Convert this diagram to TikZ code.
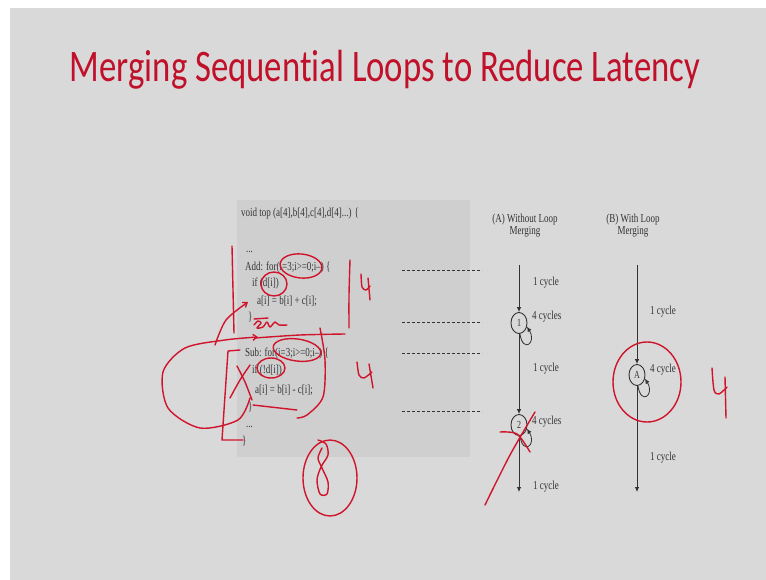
\documentclass[tikz,border=0pt]{standalone}
\usepackage{graphicx}
\usepackage{fontspec}
\setmainfont{Liberation Serif}
\newfontfamily\titlefont[Ligatures=NoCommon]{Carlito}
\usetikzlibrary{arrows.meta,shapes.geometric}
\definecolor{slide}{HTML}{D9D9D9}
\definecolor{codebg}{HTML}{CFCFCF}
\definecolor{titlered}{HTML}{C0102A}
\definecolor{ink}{HTML}{D0142C}
\definecolor{txt}{HTML}{333333}
% text on this slide is set slightly taller than wide
\newcommand\tallt[1]{\scalebox{1}[1.35]{#1}}
\begin{document}
\begin{tikzpicture}[x=1pt,y=-1pt,
  codeline/.style={anchor=base west, inner sep=0pt, font=\fontsize{9}{10}\selectfont, text=txt},
  lbl/.style={anchor=west, inner sep=0pt, font=\fontsize{9}{10}\selectfont, text=txt},
  hdr/.style={inner sep=0pt, font=\fontsize{9}{10}\selectfont, text=txt},
  state/.style={ellipse, draw=txt, line width=0.9pt, minimum width=16pt, minimum height=21pt, inner sep=0pt, font=\fontsize{8}{9}\selectfont, text=txt},
  flow/.style={draw=txt, line width=0.8pt, -{Latex[length=5pt,width=4.5pt]}},
  guide/.style={draw=txt, line width=0.8pt, dash pattern=on 3pt off 2pt},
  pen/.style={draw=ink, line width=1.4pt, line cap=round, line join=round},
]
\useasboundingbox (0,0) rectangle (766,580);
\fill[white] (0,0) rectangle (766,580);
\fill[slide] (10,8) rectangle (766,580);

% title
\node[text=titlered, inner sep=0pt, anchor=base] (title) at (385,82)
  {\titlefont\scalebox{1}[1.3]{\resizebox{630pt}{!}{Merging Sequential Loops to Reduce Latency}}};

% code panel
\node[fill=codebg, minimum width=233pt, minimum height=257pt, anchor=north west, inner sep=0pt] (codebox) at (237,200) {};
\node[codeline] (c1) at (241,217) {\tallt{void top (a[4],b[4],c[4],d[4]...) \{}};
\node[codeline] (c2) at (246,253) {\tallt{...}};
\node[codeline] (c3) at (245,270) {\tallt{Add: for(i=3;i>=0;i--) \{}};
\node[codeline] (c4) at (252,287) {\tallt{if (d[i])}};
\node[codeline] (c5) at (257,304) {\tallt{a[i] = b[i] + c[i];}};
\node[codeline] (c6) at (248,320) {\tallt{\}}};
\node[codeline] (c7) at (245,356) {\tallt{Sub: for(i=3;i>=0;i--) \{}};
\node[codeline] (c8) at (252,373) {\tallt{if (!d[i])}};
\node[codeline] (c9) at (255,393) {\tallt{a[i] = b[i] - c[i];}};
\node[codeline] (c10) at (248,410) {\tallt{\}}};
\node[codeline] (c11) at (246,427) {\tallt{...}};
\node[codeline] (c12) at (242,444) {\tallt{\}}};

% dashed guides
\coordinate (g1a) at (402,270); \coordinate (g1b) at (482,270);
\coordinate (g2a) at (402,322); \coordinate (g2b) at (482,322);
\coordinate (g3a) at (402,353); \coordinate (g3b) at (482,353);
\coordinate (g4a) at (402,411); \coordinate (g4b) at (482,411);
\draw[guide] (g1a) -- (g1b);
\draw[guide] (g2a) -- (g2b);
\draw[guide] (g3a) -- (g3b);
\draw[guide] (g4a) -- (g4b);

% (A) without loop merging
\node[hdr] (hA) at (525,226) {\tallt{\begin{tabular}{@{}c@{}}(A) Without Loop\\[-1pt]Merging\end{tabular}}};
\coordinate (Atop) at (519,265);
\node[state] (n1) at (519,323) {\tallt{1}};
\node[state] (n2) at (519,425) {\tallt{2}};
\coordinate (Abot) at (519,492);
\draw[flow] (Atop) -- (n1);
\draw[flow] (n1) -- (n2);
\draw[flow] (n2) -- (Abot);
\draw[flow] (n1.-85) .. controls +(3,20) and +(10,16) .. (n1.-25);
\draw[flow] (n2.-85) .. controls +(3,20) and +(10,16) .. (n2.-25);
\node[lbl] (la1) at (533,283) {\tallt{1 cycle}};
\node[lbl] (la2) at (532,317) {\tallt{4 cycles}};
\node[lbl] (la3) at (533,369) {\tallt{1 cycle}};
\node[lbl] (la4) at (532,422) {\tallt{4 cycles}};
\node[lbl] (la5) at (533,487) {\tallt{1 cycle}};

% (B) with loop merging
\node[hdr] (hB) at (633,226) {\tallt{\begin{tabular}{@{}c@{}}(B) With Loop\\[-1pt]Merging\end{tabular}}};
\coordinate (Btop) at (637,265);
\node[state] (nA) at (637,375) {\tallt{A}};
\coordinate (Bbot) at (637,492);
\draw[flow] (Btop) -- (nA);
\draw[flow] (nA) -- (Bbot);
\draw[flow] (nA.-85) .. controls +(3,20) and +(10,16) .. (nA.-25);
\node[lbl] (lb1) at (650,312) {\tallt{1 cycle}};
\node[lbl] (lb2) at (650,370) {\tallt{4 cycle}};
\node[lbl] (lb3) at (650,458) {\tallt{1 cycle}};

% handwritten pen annotations
\draw[pen, rotate around={-6:(301,266)}] (301,266) ellipse [x radius=21pt, y radius=12pt];
\draw[pen] (274,284) ellipse [x radius=13pt, y radius=12pt];
\draw[pen] plot[smooth] coordinates {(232,246) (233,290) (234,333)};
\draw[pen, -{Straight Barb[length=4pt,width=6pt]}] plot[smooth] coordinates {(215,345) (226,320) (248,302)};
\draw[pen] (254,319) -- (268,318);
\draw[pen] plot[smooth] coordinates {(254,325) (258,321) (261,323) (257,328) (263,327) (267,322) (270,327) (275,322) (279,325) (287,325)};
\draw[pen] plot[smooth] coordinates {(255,338) (300,335) (345,334)};
\draw[pen, -{Straight Barb[length=4pt,width=6pt]}] plot[smooth] coordinates {(250,398) (238,420) (200,428) (168,408) (163,372) (185,348) (225,340) (258,337)};
\draw[pen] (240,350) -- (228,351) -- (222,440) -- (243,440);
\draw[pen] plot[smooth] coordinates {(230,398) (240,380) (250,365)};
\draw[pen] plot[smooth] coordinates {(237,366) (245,382) (252,400)};
\draw[pen, rotate around={-8:(297,350)}] (297,350) ellipse [x radius=24pt, y radius=11pt];
\draw[pen] (271,368) ellipse [x radius=14pt, y radius=10pt];
\draw[pen] plot[smooth] coordinates {(320,328) (325,360) (323,397) (307,415) (297,418)};
\draw[pen] (253,405) -- (297,410);
\draw[pen] plot[smooth] coordinates {(350,260) (349,295) (349,328)};
\draw[pen] plot[smooth] coordinates {(361,274) (362,287) (366,290) (370,286)};
\draw[pen] (368,278) -- (370,300);
\draw[pen] plot[smooth] coordinates {(357,362) (359,375) (364,378) (372,372)};
\draw[pen] (369,364) -- (373,388);
\draw[pen] (330,478) ellipse [x radius=27pt, y radius=38pt];
\draw[pen] plot[smooth] coordinates {(318,440) (326,444) (328,455) (321,467) (317,480) (320,494) (327,494) (328,482) (322,468) (318,458) (322,448)};
\draw[pen] plot[smooth] coordinates {(485,505) (510,455) (535,412)};
\draw[pen] plot[smooth] coordinates {(500,432) (517,434) (530,452)};
\draw[pen] (647,382) ellipse [x radius=34pt, y radius=40pt];
\draw[pen] plot[smooth] coordinates {(712,368) (714,390) (719,394) (727,387)};
\draw[pen] (725,377) -- (726,418);
\end{tikzpicture}
\end{document}
